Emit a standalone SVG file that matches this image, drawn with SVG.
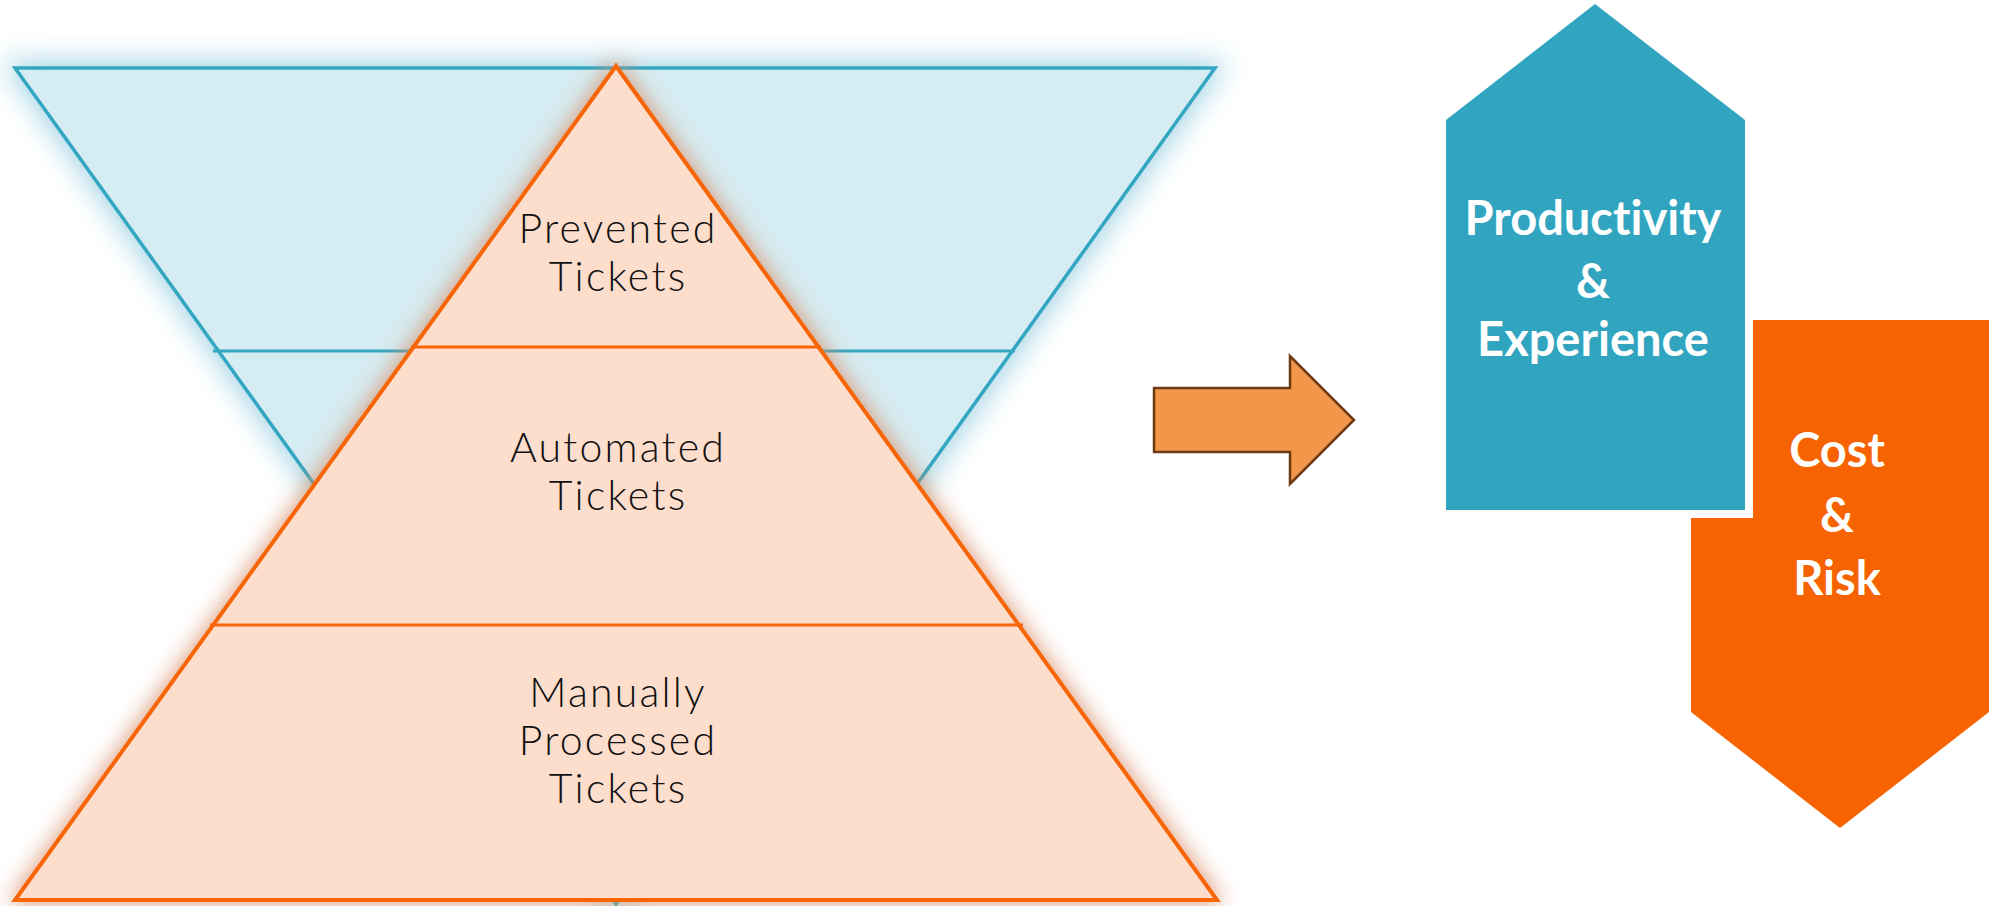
<svg xmlns="http://www.w3.org/2000/svg" width="2001" height="906" viewBox="0 0 2001 906">
<style>
.lt{font-family:Lato,"Liberation Sans",sans-serif;font-weight:300;font-size:41px;letter-spacing:2.2px;fill:#111;text-anchor:middle}
.bd{font-family:Lato,"Liberation Sans",sans-serif;font-weight:700;font-size:47px;fill:#fff;text-anchor:middle;font-variant-ligatures:none}
.bline{stroke:#33A6C1;stroke-width:3}
.oline{stroke:#F76506;stroke-width:3}
</style>
<defs>
<filter id="glow" x="-15%" y="-15%" width="130%" height="130%"><feGaussianBlur stdDeviation="14"/></filter>
<filter id="glow2" x="-15%" y="-15%" width="130%" height="130%"><feGaussianBlur stdDeviation="11"/></filter>
</defs>
<rect width="2001" height="906" fill="#fff"/>
<g id="blue-funnel">
<polygon points="15,68 1215,68 616,904" fill="#a6d6e6" stroke="#a6d6e6" stroke-width="14" filter="url(#glow)"/>
<polygon points="15,68 1215,68 616,904" fill="#D5ECF2" stroke="#33A6C1" stroke-width="3.5" stroke-linejoin="miter"/>
<line class="bline" x1="213" y1="351" x2="1015" y2="351"/>
</g>
<g id="orange-pyramid">
<polygon points="616,66 1217,900 15,900" fill="#d98f6a" stroke="#d98f6a" stroke-width="8" opacity="0.85" filter="url(#glow2)"/>
<polygon points="616,66 1217,900 15,900" fill="#FDDDCC" stroke="#F76506" stroke-width="4" stroke-linejoin="miter"/>
<line class="oline" x1="411" y1="347" x2="821" y2="347"/>
<line class="oline" x1="210" y1="625" x2="1023" y2="625"/>
</g>
<g id="tier-prevented">
<text class="lt" x="618" y="243">Prevented</text>
<text class="lt" x="618" y="291">Tickets</text>
</g>
<g id="tier-automated">
<text class="lt" x="618" y="462">Automated</text>
<text class="lt" x="618" y="510">Tickets</text>
</g>
<g id="tier-manual">
<text class="lt" x="618" y="707">Manually</text>
<text class="lt" x="618" y="755">Processed</text>
<text class="lt" x="618" y="803">Tickets</text>
</g>
<g id="connectors">
<polygon points="1154,388 1290,388 1290,356 1354,420 1290,484 1290,452 1154,452" fill="#F2964A" stroke="#6B3A12" stroke-width="2.5" stroke-linejoin="miter"/>
</g>
<g id="cost-risk">
<polygon points="1691,320 1989,320 1989,712 1840,828 1691,712" fill="#F76300"/>
<text class="bd" x="1837" y="467">Cost</text>
<text class="bd" x="1837" y="532">&amp;</text>
<text class="bd" x="1837" y="595">Risk</text>
</g>
<g id="productivity-experience">
<polygon points="1446,120 1595,4 1745,120 1745,510 1446,510" fill="#31A5C0" stroke="#fff" stroke-width="16" paint-order="stroke" stroke-linejoin="miter"/>
<text class="bd" x="1593" y="235">Productivity</text>
<text class="bd" x="1593" y="298">&amp;</text>
<text class="bd" x="1593" y="356">Experience</text>
</g>
</svg>
